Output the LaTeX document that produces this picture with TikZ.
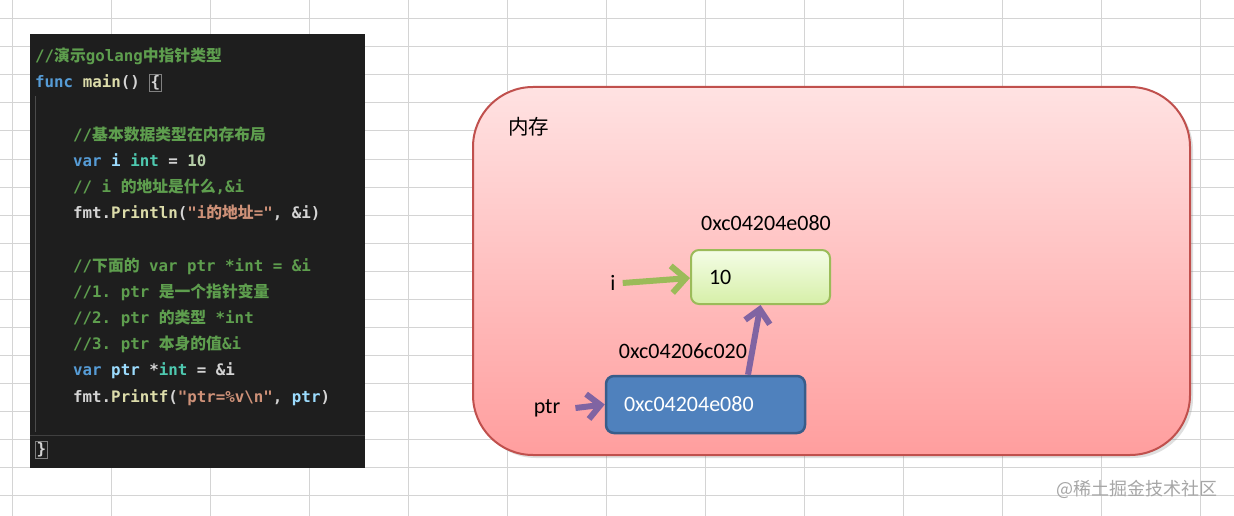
\documentclass[tikz,border=0pt]{standalone}
\usepackage{fontspec}
\setmainfont{Carlito}
\setmonofont{DejaVu Sans Mono}
\newfontfamily\cjk{Noto Sans CJK SC}
\usetikzlibrary{positioning,arrows.meta,shadows}
\definecolor{gridgray}{HTML}{D4D4D4}
\definecolor{codebg}{HTML}{1E1E1E}
\definecolor{codetext}{HTML}{D4D4D4}
\definecolor{codecmt}{HTML}{5E9E4E}
\definecolor{codekw}{HTML}{569CD6}
\definecolor{codefn}{HTML}{DCDCAA}
\definecolor{codevar}{HTML}{9CDCFE}
\definecolor{codetype}{HTML}{4EC9B0}
\definecolor{codenum}{HTML}{B5CEA8}
\definecolor{codestr}{HTML}{CE9178}
\definecolor{memred}{HTML}{C0504D}
\definecolor{memtop}{HTML}{FFE2E2}
\definecolor{membot}{HTML}{FF9E9E}
\definecolor{leafedge}{HTML}{9BBB59}
\definecolor{leaftop}{HTML}{F4FDE6}
\definecolor{leafbot}{HTML}{D6EFA8}
\definecolor{steel}{HTML}{4F81BD}
\definecolor{steeledge}{HTML}{385D8A}
\definecolor{plum}{HTML}{8064A2}
\newcommand\zh[1]{{\cjk #1}}
\newcommand\gocmt[1]{{\color{codecmt}#1}}
\newcommand\gokw[1]{{\color{codekw}#1}}
\newcommand\gofn[1]{{\color{codefn}#1}}
\newcommand\govar[1]{{\color{codevar}#1}}
\newcommand\gotype[1]{{\color{codetype}#1}}
\newcommand\gonum[1]{{\color{codenum}#1}}
\newcommand\gostr[1]{{\color{codestr}#1}}
\newcommand\gobrace[1]{{\setlength\fboxsep{0.6pt}\setlength\fboxrule{0.8pt}\fcolorbox{gray}{codebg}{#1}}}
\tikzset{
  gridline/.style={draw=gridgray,line width=1pt},
  codepanel/.style={fill=codebg,inner sep=0pt,minimum width=335pt,minimum height=434pt},
  codeline/.style={anchor=base west,inner sep=0pt,font=\fontsize{15.8}{18}\ttfamily\bfseries,text=codetext},
  memory/.style={rounded corners=60pt,draw=memred,line width=2pt,top color=memtop,bottom color=membot,
                 minimum width=717pt,minimum height=368pt,
                 drop shadow={shadow xshift=3pt,shadow yshift=-3pt,opacity=0.25}},
  valbox/.style={rounded corners=8pt,line width=2pt,align=left,inner ysep=0pt,
                 font=\fontsize{22}{26}\selectfont},
  greenbox/.style={valbox,draw=leafedge,top color=leaftop,bottom color=leafbot,
                   minimum width=139pt,minimum height=54pt,text width=103pt,inner xsep=18pt},
  bluebox/.style={valbox,draw=steeledge,line width=2.5pt,fill=steel,text=white,
                  minimum width=199pt,minimum height=57pt,text width=163pt,inner xsep=18pt},
  addr/.style={inner sep=0pt,font=\fontsize{22}{26}\selectfont},
  garrow/.style={-{Straight Barb[length=14pt,width=27pt]},line width=6pt,draw=leafedge},
  parrow/.style={-{Straight Barb[length=13pt,width=25pt]},line width=6pt,draw=plum}
}
\begin{document}
\begin{tikzpicture}[x=1pt,y=-1pt]
  \useasboundingbox (0,0) rectangle (1234,516);
  \fill[white] (0,0) rectangle (1234,516);
  \foreach \c in {0,...,12}
    \draw[gridline] ({12.7+99*\c},0) -- ({12.7+99*\c},516);
  \foreach \r in {0,...,17}
    \draw[gridline] (0,{19+28*\r}) -- (1234,{19+28*\r});

  \node[codepanel] (code) at (197.5,251) {};
  \draw[codebg!80!white,line width=0.8pt] (35.5,96) -- (35.5,432);
  \draw[codebg!85!white,line width=0.8pt] (code.west |- 0,435) -- (code.east |- 0,435);
  \node[codeline] (l0) at (35,61.5) {\gocmt{//\zh{演示}golang\zh{中指针类型}}};
  \node[codeline] (l1) at (35,87.7) {\gokw{func} \gofn{main}() \gobrace{\{}};
  \node[codeline] (l3) at (73,140.1) {\gocmt{//\zh{基本数据类型在内存布局}}};
  \node[codeline] (l4) at (73,166.3) {\gokw{var} \govar{i} \gotype{int} = \gonum{10}};
  \node[codeline] (l5) at (73,192.5) {\gocmt{// i \zh{的地址是什么},\&i}};
  \node[codeline] (l6) at (73,218.7) {fmt.\gofn{Println}(\gostr{"i\zh{的地址}="}, \&i)};
  \node[codeline] (l8) at (73,271.1) {\gocmt{//\zh{下面的} var ptr *int = \&i}};
  \node[codeline] (l9) at (73,297.3) {\gocmt{//1. ptr \zh{是一个指针变量}}};
  \node[codeline] (l10) at (73,323.5) {\gocmt{//2. ptr \zh{的类型} *int}};
  \node[codeline] (l11) at (73,349.7) {\gocmt{//3. ptr \zh{本身的值}\&i}};
  \node[codeline] (l12) at (73,375.9) {\gokw{var} \govar{ptr} *\gotype{int} = \&i};
  \node[codeline] (l13) at (73,402.1) {fmt.\gofn{Printf}(\gostr{"ptr=\%v\textbackslash n"}, \govar{ptr})};
  \node[codeline] (l15) at (35,454.5) {\gobrace{\}}};

  \node[memory] (mem) at (831.5,271) {};
  \node[anchor=west,inner sep=0pt,font=\cjk\fontsize{20.5}{24}\selectfont] (memlbl) at (508,127) {内存};

  \node[greenbox] (ival) at (760.5,277) {10};
  \node[addr,above left=18pt and 0pt of ival.north east] (iaddr) {0xc04204e080};
  \node[addr] (ilbl) at (613,283) {i};

  \node[bluebox] (ptrval) at (705.5,404.5) {0xc04204e080};
  \node[addr,above right=16pt and 14pt of ptrval.north west] (ptraddr) {0xc04206c020};
  \node[addr] (ptrlbl) at (547,408) {ptr};

  \draw[garrow] ([xshift=7pt]ilbl.east) -- ([yshift=-1pt]ival.west);
  \draw[parrow] ([xshift=15pt]ptrlbl.east) -- (ptrval.west);
  \draw[parrow] ([xshift=42.5pt]ptrval.north) -- (ival.south);

  \node[anchor=east,inner sep=0pt,text=black!35,font=\cjk\fontsize{18}{22}\selectfont] (wmark) at (1218,489) {@稀土掘金技术社区};
\end{tikzpicture}
\end{document}
